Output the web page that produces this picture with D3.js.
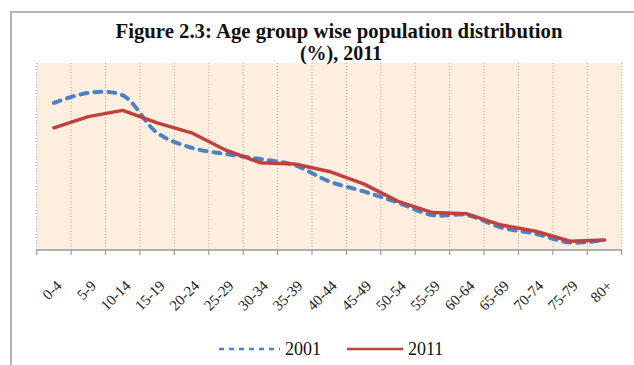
<!DOCTYPE html>
<html>
<head>
<meta charset="utf-8">
<script src="https://cdnjs.cloudflare.com/ajax/libs/d3/7.8.5/d3.min.js"></script>
<style>
  html, body { margin: 0; padding: 0; background: #ffffff; }
  svg { display: block; }
</style>
</head>
<body>
<script>
// Age groups along the x axis
const ageGroups = ["0-4", "5-9", "10-14", "15-19", "20-24", "25-29", "30-34", "35-39",
  "40-44", "45-49", "50-54", "55-59", "60-64", "65-69", "70-74", "75-79", "80+"];

// Share of population (%) in each age group
const pop2001 = [11.8, 12.6, 12.4, 9.4, 8.2, 7.7, 7.3, 6.8, 5.5, 4.7, 3.8, 2.8, 2.8, 1.8, 1.3, 0.6, 0.8];
const pop2011 = [9.8, 10.7, 11.2, 10.2, 9.4, 8.0, 7.0, 6.9, 6.3, 5.3, 3.9, 3.0, 2.9, 2.0, 1.5, 0.7, 0.8];

const seriesNames = ["2001", "2011"];
const titleLines = ["Figure 2.3: Age group wise population distribution", "(%), 2011"];

const W = 634, H = 365;
const plot = { left: 36.7, right: 621.7, top: 63, bottom: 250 };
const colors = { "2001": "#4a82c4", "2011": "#c1403d" };

const svg = d3.select("body").append("svg")
  .attr("width", W).attr("height", H);

// outer chart frame
svg.append("path")
  .attr("d", `M11,${H + 5} L11,12 L${W + 5},12`)
  .attr("fill", "none")
  .attr("stroke", "#b3b3b3")
  .attr("stroke-width", 2);

const x = d3.scaleBand().domain(ageGroups).range([plot.left, plot.right]).padding(0);
const y = d3.scaleLinear().domain([0, 15]).range([plot.bottom, plot.top]);

// plot area fill
svg.append("rect")
  .attr("x", plot.left).attr("y", plot.top)
  .attr("width", plot.right - plot.left).attr("height", plot.bottom - plot.top)
  .attr("fill", "#fdeee0");

// dotted vertical gridlines on the category boundaries
const bounds = ageGroups.map(d => x(d)).concat([plot.right]);
svg.append("g").selectAll("line").data(bounds).join("line")
  .attr("x1", d => d).attr("x2", d => d)
  .attr("y1", plot.top).attr("y2", plot.bottom)
  .attr("stroke", "#a8a8a8")
  .attr("stroke-width", 1)
  .attr("stroke-dasharray", "1,2");

// category axis with ticks between groups
const axisG = svg.append("g").attr("transform", `translate(0,${plot.bottom})`);
axisG.append("line")
  .attr("x1", plot.left).attr("x2", plot.right)
  .attr("y1", 0).attr("y2", 0)
  .attr("stroke", "#9a9a9a").attr("stroke-width", 1.5);
axisG.selectAll("line.tick").data(bounds).join("line")
  .attr("class", "tick")
  .attr("x1", d => d).attr("x2", d => d)
  .attr("y1", 0).attr("y2", 5)
  .attr("stroke", "#9a9a9a").attr("stroke-width", 1.2);

axisG.selectAll("text").data(ageGroups).join("text")
  .attr("transform", d => `translate(${x(d) + x.bandwidth() / 2 + 5},${33}) rotate(-45)`)
  .attr("text-anchor", "end")
  .attr("dy", "0.35em")
  .attr("font-family", "'Liberation Serif', 'Times New Roman', serif")
  .attr("font-size", 15)
  .attr("fill", "#222")
  .text(d => d);

// series lines
const cx = i => x(ageGroups[i]) + x.bandwidth() / 2;
const smooth = d3.line().x((d, i) => cx(i)).y(d => y(d)).curve(d3.curveCatmullRom.alpha(0.5));
const straight = d3.line().x((d, i) => cx(i)).y(d => y(d));

svg.append("path")
  .attr("d", smooth(pop2001))
  .attr("fill", "none")
  .attr("stroke", colors["2001"])
  .attr("stroke-width", 4)
  .attr("stroke-linecap", "round")
  .attr("stroke-dasharray", "7,7");

svg.append("path")
  .attr("d", straight(pop2011))
  .attr("fill", "none")
  .attr("stroke", colors["2011"])
  .attr("stroke-width", 3.5)
  .attr("stroke-linejoin", "round")
  .attr("stroke-linecap", "round");

// title
const title = svg.append("g")
  .attr("font-family", "'Liberation Serif', 'Times New Roman', serif")
  .attr("font-weight", "bold")
  .attr("font-size", 20)
  .attr("fill", "#111")
  .attr("text-anchor", "middle");
title.append("text").attr("x", 339).attr("y", 38)
  .attr("textLength", 447).attr("lengthAdjust", "spacingAndGlyphs")
  .text(titleLines[0]);
title.append("text").attr("x", 341).attr("y", 60)
  .text(titleLines[1]);

// legend
const legend = svg.append("g").attr("transform", "translate(0,349)");
const legendItems = [
  { name: seriesNames[0], x0: 219, x1: 280, dash: "5,5" },
  { name: seriesNames[1], x0: 347, x1: 403, dash: null }
];
legendItems.forEach(it => {
  legend.append("line")
    .attr("x1", it.x0).attr("x2", it.x1).attr("y1", 0).attr("y2", 0)
    .attr("stroke", colors[it.name])
    .attr("stroke-width", 2.5)
    .attr("stroke-dasharray", it.dash);
  legend.append("text")
    .attr("x", it.x1 + 5).attr("y", 0).attr("dy", "0.35em")
    .attr("font-family", "'Liberation Serif', 'Times New Roman', serif")
    .attr("font-size", 18)
    .attr("fill", "#111")
    .text(it.name);
});
</script>
</body>
</html>
